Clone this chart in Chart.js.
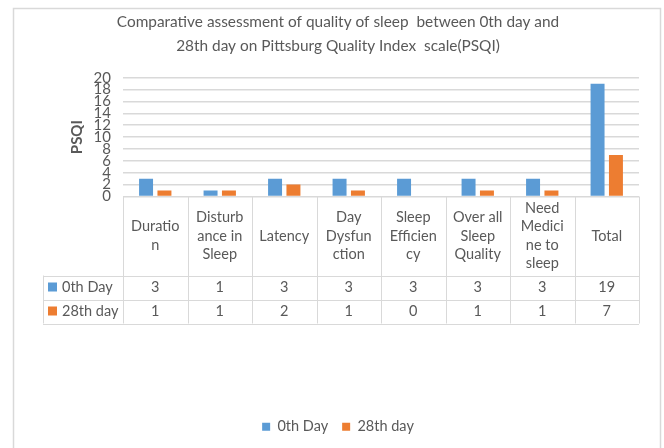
<!DOCTYPE html>
<html>
<head>
<meta charset="utf-8">
<script src="https://cdn.jsdelivr.net/npm/chart.js"></script>
<style>body{margin:0;background:#fff}</style>
</head>
<body>
<canvas id="sleepChart" width="664" height="448"></canvas>
<script>
// categories and the way Excel wrapped them in the table header
const categories = ['Duration', 'Disturbance in Sleep', 'Latency', 'Day Dysfunction',
    'Sleep Efficiency', 'Over all Sleep Quality', 'Need Medicine to sleep', 'Total'];
const categoryLines = [
    ['Duratio', 'n'],
    ['Disturb', 'ance in', 'Sleep'],
    ['Latency'],
    ['Day', 'Dysfun', 'ction'],
    ['Sleep', 'Efficien', 'cy'],
    ['Over all', 'Sleep', 'Quality'],
    ['Need', 'Medici', 'ne to', 'sleep'],
    ['Total']
];
const day0 = [3, 1, 3, 3, 3, 3, 3, 19];
const day28 = [1, 1, 2, 1, 0, 1, 1, 7];
const yMax = 20;
const yStep = 2;

const gray = '#595959';
const gridColor = '#d9d9d9';
const fontFamily = 'Lato, "Open Sans", sans-serif';

// outer frame of the Excel chart
const framePlugin = {
    id: 'frame',
    beforeDraw(chart) {
        const ctx = chart.ctx;
        ctx.save();
        ctx.fillStyle = '#fff';
        ctx.fillRect(0, 0, chart.width, chart.height);
        ctx.strokeStyle = gridColor;
        ctx.lineWidth = 1.5;
        ctx.strokeRect(13.5, 8.5, 647, 470);
        ctx.restore();
    }
};

// data table under the plot
const tablePlugin = {
    id: 'dataTable',
    afterDraw(chart) {
        const { ctx, chartArea, scales } = chart;
        const x = scales.x;
        const step = x.getPixelForValue(1) - x.getPixelForValue(0);
        const top = chartArea.bottom;
        const headerBottom = top + 79;
        const row1 = headerBottom + 24;
        const row2 = row1 + 24;
        const tableLeft = 43;
        const right = chartArea.right;

        ctx.save();
        ctx.strokeStyle = gridColor;
        ctx.lineWidth = 1;
        ctx.beginPath();
        [headerBottom, row1, row2].forEach(y => {
            ctx.moveTo(tableLeft, Math.round(y) + 0.5);
            ctx.lineTo(right, Math.round(y) + 0.5);
        });
        for (let i = 0; i <= categories.length; i++) {
            const bx = Math.round(x.getPixelForValue(0) - step / 2 + i * step) + 0.5;
            ctx.moveTo(bx, top);
            ctx.lineTo(bx, row2);
        }
        ctx.moveTo(tableLeft + 0.5, headerBottom);
        ctx.lineTo(tableLeft + 0.5, row2);
        ctx.stroke();

        ctx.fillStyle = gray;
        ctx.font = '14.5px ' + fontFamily;
        ctx.textAlign = 'center';
        ctx.textBaseline = 'middle';
        const lineH = 18.5;
        const headMid = (top + headerBottom) / 2;
        categoryLines.forEach((lines, i) => {
            const cx = x.getPixelForValue(i);
            const y0 = headMid - (lines.length - 1) * lineH / 2;
            lines.forEach((t, j) => ctx.fillText(t, cx, y0 + j * lineH));
        });

        const rows = [row1 - 12, row2 - 12];
        chart.data.datasets.forEach((ds, k) => {
            const cy = rows[k];
            ds.data.forEach((v, i) => ctx.fillText(String(v), x.getPixelForValue(i), cy));
            ctx.fillStyle = ds.backgroundColor;
            ctx.fillRect(48, cy - 5, 9, 9);
            ctx.fillStyle = gray;
            ctx.textAlign = 'left';
            ctx.fillText(ds.label, 62, cy);
            ctx.textAlign = 'center';
        });
        ctx.restore();
    }
};

new Chart(document.getElementById('sleepChart'), {
    type: 'bar',
    data: {
        labels: categories,
        datasets: [
            { label: '0th Day', data: day0, backgroundColor: '#5b9bd5' },
            { label: '28th day', data: day28, backgroundColor: '#ed7d31' }
        ]
    },
    options: {
        responsive: false,
        animation: false,
        categoryPercentage: 0.57,
        barPercentage: 0.76,
        layout: { padding: { left: 37, right: 25, top: 0, bottom: 4 } },
        plugins: {
            title: {
                display: true,
                text: ['Comparative assessment of quality of sleep  between 0th day and',
                    '28th day on Pittsburg Quality Index  scale(PSQI)'],
                color: gray,
                font: { family: fontFamily, size: 15.4, weight: 'normal', lineHeight: 1.55 },
                padding: { top: 10, bottom: 20 }
            },
            legend: {
                position: 'bottom',
                labels: {
                    color: gray,
                    boxWidth: 8,
                    boxHeight: 8,
                    padding: 14,
                    font: { family: fontFamily, size: 14.5 }
                }
            },
            tooltip: { enabled: false }
        },
        scales: {
            x: {
                grid: { display: false },
                border: { display: false },
                ticks: { display: false },
                afterFit(scale) { scale.height = 209; }
            },
            y: {
                min: 0,
                max: yMax,
                ticks: {
                    stepSize: yStep,
                    autoSkip: false,
                    color: gray,
                    padding: 12,
                    font: { family: fontFamily, size: 15, lineHeight: 1 }
                },
                grid: { color: gridColor, drawTicks: false, lineWidth: 1.5 },
                border: { display: false },
                title: {
                    display: true,
                    text: 'PSQI',
                    color: gray,
                    font: { family: fontFamily, size: 15, weight: 'bold' },
                    padding: { top: 31, bottom: 0 }
                },
                afterFit(scale) { scale.width = 86; }
            }
        }
    },
    plugins: [framePlugin, tablePlugin]
});
</script>
</body>
</html>
